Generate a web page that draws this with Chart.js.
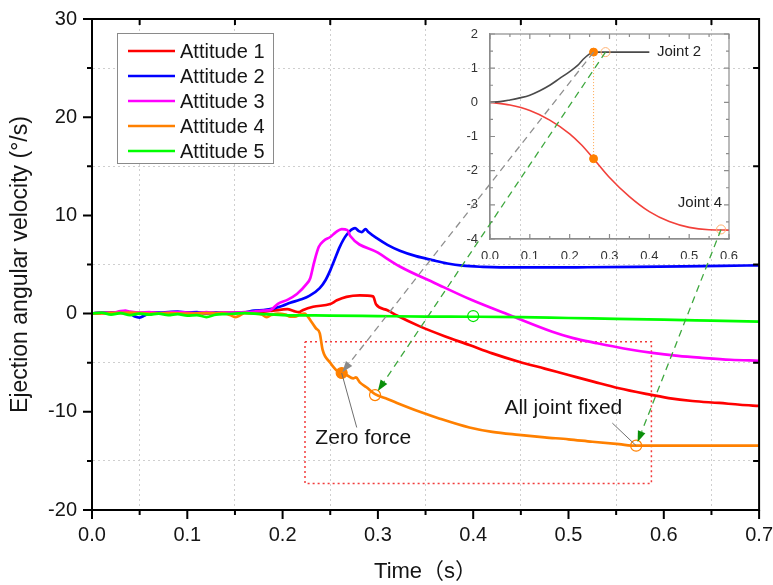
<!DOCTYPE html>
<html>
<head>
<meta charset="utf-8">
<script src="https://cdn.jsdelivr.net/npm/chart.js@4.4.1/dist/chart.umd.min.js"></script>
<style>
  html, body { margin: 0; padding: 0; background: #fff; }
  #wrap { position: relative; width: 773px; height: 585px; }
  #wrap canvas { position: absolute; left: 0; top: 0; }
</style>
</head>
<body>
<div id="wrap">
  <canvas id="main" width="773" height="585"></canvas>
  <canvas id="inset" width="773" height="585"></canvas>
</div>
<script>
const FONT = 'Arial, "Liberation Sans", "Noto Sans CJK SC", sans-serif';
const INK = '#151515';

// main plot: [time (s), ejection angular velocity (deg/s)]
const attitude1 = [[0,0],[0.02,0.1],[0.04,0.05],[0.06,0.1],[0.08,0.0],[0.1,0.1],[0.12,0.05],[0.14,0.1],[0.16,0.1],[0.18,0.2],[0.19,0.3],[0.205,0.45],[0.212,0.25],[0.217,0.15],[0.221,0.35],[0.232,0.7],[0.25,0.97],[0.257,1.35],[0.267,1.7],[0.281,1.85],[0.295,1.75],[0.298,0.95],[0.31,0.35],[0.32,-0.2],[0.344,-1.3],[0.37,-2.3],[0.396,-3.2],[0.42,-4.05],[0.448,-4.9],[0.475,-5.6],[0.5,-6.25],[0.527,-6.95],[0.553,-7.6],[0.58,-8.15],[0.605,-8.6],[0.63,-8.9],[0.658,-9.1],[0.68,-9.28],[0.7,-9.4]];
const attitude2 = [[0,0],[0.01,0.1],[0.02,0.05],[0.03,0.15],[0.04,0.0],[0.045,-0.3],[0.05,-0.4],[0.055,-0.2],[0.06,0.05],[0.07,0.1],[0.08,0.15],[0.09,0.2],[0.1,0.1],[0.11,0.15],[0.12,0.05],[0.13,0.1],[0.14,0.0],[0.15,0.05],[0.16,0.1],[0.17,0.3],[0.18,0.35],[0.19,0.5],[0.2,0.8],[0.208,1.1],[0.218,1.4],[0.228,1.8],[0.239,2.6],[0.245,3.4],[0.25,4.4],[0.255,5.6],[0.26,6.8],[0.267,8.0],[0.276,8.7],[0.28,8.4],[0.283,8.3],[0.287,8.6],[0.29,8.3],[0.3,7.6],[0.31,7.0],[0.323,6.4],[0.34,5.85],[0.357,5.45],[0.373,5.1],[0.389,4.88],[0.41,4.76],[0.428,4.71],[0.47,4.7],[0.52,4.72],[0.57,4.75],[0.62,4.8],[0.66,4.85],[0.7,4.92]];
const attitude3 = [[0,0],[0.01,0.1],[0.02,0.05],[0.03,0.25],[0.035,0.3],[0.04,0.2],[0.05,0.1],[0.06,0.15],[0.07,0.05],[0.08,0.1],[0.09,0.15],[0.1,0.1],[0.11,0.05],[0.12,0.15],[0.13,0.05],[0.14,0.1],[0.15,0.1],[0.16,0.15],[0.17,0.2],[0.18,0.3],[0.187,0.35],[0.195,1.0],[0.205,1.4],[0.215,2.0],[0.225,3.0],[0.229,3.6],[0.233,5.2],[0.238,6.8],[0.243,7.4],[0.25,7.8],[0.256,8.3],[0.262,8.6],[0.268,8.5],[0.271,7.9],[0.3,6.2],[0.323,4.8],[0.36,3.1],[0.398,1.4],[0.438,-0.15],[0.483,-1.85],[0.505,-2.5],[0.529,-3.0],[0.558,-3.55],[0.588,-4.0],[0.615,-4.3],[0.64,-4.5],[0.67,-4.7],[0.7,-4.8]];
const attitude4 = [[0,0],[0.02,0.05],[0.04,0.1],[0.06,0.0],[0.08,0.05],[0.1,0.0],[0.12,0.05],[0.14,0.0],[0.145,-0.15],[0.15,-0.35],[0.155,-0.2],[0.16,0.05],[0.17,0.0],[0.178,-0.1],[0.183,-0.35],[0.188,-0.15],[0.195,0.0],[0.203,-0.1],[0.208,-0.3],[0.213,-0.3],[0.218,-0.1],[0.223,0.0],[0.23,-0.8],[0.235,-1.5],[0.239,-2.0],[0.242,-3.7],[0.25,-5.0],[0.258,-5.9],[0.262,-6.05],[0.267,-6.25],[0.274,-6.6],[0.277,-6.5],[0.281,-7.0],[0.288,-7.5],[0.297,-8.2],[0.31,-8.7],[0.32,-9.1],[0.344,-10.0],[0.365,-10.7],[0.396,-11.6],[0.42,-12.05],[0.448,-12.35],[0.475,-12.6],[0.5,-12.8],[0.525,-13.05],[0.553,-13.3],[0.571,-13.45],[0.6,-13.45],[0.65,-13.45],[0.7,-13.45]];
const attitude5 = [[0,0],[0.01,0.1],[0.02,-0.1],[0.03,0.05],[0.04,-0.15],[0.05,0.0],[0.06,-0.1],[0.07,0.0],[0.08,-0.15],[0.09,-0.05],[0.1,-0.2],[0.11,-0.15],[0.12,-0.35],[0.13,-0.1],[0.14,-0.05],[0.15,0.0],[0.16,0.05],[0.17,0.0],[0.2,-0.15],[0.25,-0.2],[0.3,-0.25],[0.35,-0.3],[0.4,-0.32],[0.45,-0.36],[0.5,-0.45],[0.55,-0.53],[0.6,-0.62],[0.65,-0.72],[0.7,-0.82]];

const seriesNames = ['Attitude 1', 'Attitude 2', 'Attitude 3', 'Attitude 4', 'Attitude 5'];
const seriesData = [attitude1, attitude2, attitude3, attitude4, attitude5];
const seriesColors = ['#ff0000', '#0000ff', '#ff00ff', '#ff8000', '#00ff00'];

// marked events on the main plot
const zeroForce = [[0.262, -6.05]];
const jointFixed = [[0.297, -8.3], [0.571, -13.45]];
const greenMark = [[0.4, -0.25]];
const zoomBox = [[0.2235, -2.86], [0.587, -2.86], [0.587, -17.3], [0.2235, -17.3], [0.2235, -2.86]];

// inset: joint angle vs time
const joint2 = [[0,0],[0.025,0.02],[0.05,0.07],[0.075,0.13],[0.1,0.21],[0.125,0.34],[0.15,0.5],[0.175,0.7],[0.2,0.9],[0.22,1.08],[0.234,1.26],[0.25,1.42],[0.26,1.47],[0.3,1.47],[0.35,1.47],[0.4,1.47]];
const joint4 = [[0,0],[0.05,-0.08],[0.1,-0.24],[0.15,-0.52],[0.2,-0.92],[0.23,-1.25],[0.26,-1.65],[0.3,-2.2],[0.35,-2.76],[0.4,-3.2],[0.45,-3.49],[0.5,-3.66],[0.55,-3.73],[0.6,-3.74]];
const insetZero = [[0.26, 1.47], [0.26, -1.65]];
const insetFixed = [[0.29, 1.47], [0.58, -3.72]];

const notes = [
  { text: 'Zero force', at: [0.2846, -12.67], from: [0.2778, -11.6], to: zeroForce[0] },
  { text: 'All joint fixed', at: [0.4946, -9.61], from: [0.546, -11.15], to: jointFixed[1] },
];
const links = [
  { from: insetZero[0], to: zeroForce[0], line: '#8f8f8f', head: '#8a8a8a', gap: 1 },
  { from: insetFixed[0], to: jointFixed[0], line: '#3ea83e', head: '#0a8f0a', gap: 5 },
  { from: insetFixed[1], to: jointFixed[1], line: '#3ea83e', head: '#0a8f0a', gap: 4 },
];
const jointLabels = [
  { text: 'Joint 2', at: [0.419, 1.47], align: 'left' },
  { text: 'Joint 4', at: [0.527, -2.95], align: 'center' },
];

const pts = arr => arr.map(([x, y]) => ({ x, y }));
const isOdd = (v, step) => Math.round(v / step) % 2 !== 0;
const CLEAR = 'rgba(0,0,0,0)';

const mainFrame = {
  id: 'mainFrame',
  afterDraw(chart) {
    const { ctx, chartArea: a, scales: { x, y } } = chart;
    ctx.save();
    ctx.strokeStyle = '#000';
    ctx.lineWidth = 2;
    ctx.strokeRect(a.left, a.top, a.right - a.left, a.bottom - a.top);
    ctx.beginPath();
    for (let i = 0; i <= 14; i++) {
      const px = x.getPixelForValue(i * 0.05);
      if (i % 2 === 0) { ctx.moveTo(px, a.bottom); ctx.lineTo(px, a.bottom + 9); }
      else {
        ctx.moveTo(px, a.bottom); ctx.lineTo(px, a.bottom + 5);
        ctx.moveTo(px, a.top); ctx.lineTo(px, a.top + 6);
      }
    }
    for (let i = -4; i <= 6; i++) {
      const py = y.getPixelForValue(i * 5);
      if (i % 2 === 0) { ctx.moveTo(a.left - 9, py); ctx.lineTo(a.left, py); }
      else {
        ctx.moveTo(a.left - 5, py); ctx.lineTo(a.left, py);
        ctx.moveTo(a.right - 6, py); ctx.lineTo(a.right, py);
      }
    }
    ctx.stroke();

    // legend box
    const bx = a.left + 25, by = a.top + 14;
    ctx.fillStyle = '#fff';
    ctx.fillRect(bx, by, 156, 130);
    ctx.strokeStyle = '#8a8a8a';
    ctx.lineWidth = 1;
    ctx.strokeRect(bx + 0.5, by + 0.5, 156, 130);
    ctx.font = '20px ' + FONT;
    ctx.textBaseline = 'middle';
    ctx.fillStyle = INK;
    seriesNames.forEach((name, i) => {
      const ry = by + 18 + i * 25;
      ctx.strokeStyle = seriesColors[i];
      ctx.lineWidth = 2.5;
      ctx.beginPath();
      ctx.moveTo(bx + 11, ry); ctx.lineTo(bx + 58, ry);
      ctx.stroke();
      ctx.fillText(name, bx + 63, ry + 1);
    });

    // annotations
    ctx.font = '21px ' + FONT;
    ctx.textAlign = 'center';
    notes.forEach(n => {
      ctx.fillStyle = INK;
      ctx.fillText(n.text, x.getPixelForValue(n.at[0]), y.getPixelForValue(n.at[1]));
      ctx.strokeStyle = '#6f6f6f';
      ctx.lineWidth = 1;
      ctx.beginPath();
      ctx.moveTo(x.getPixelForValue(n.from[0]), y.getPixelForValue(n.from[1]));
      ctx.lineTo(x.getPixelForValue(n.to[0]), y.getPixelForValue(n.to[1]));
      ctx.stroke();
    });
    ctx.restore();
  }
};

const lineSet = (i) => ({
  label: seriesNames[i], data: pts(seriesData[i]), borderColor: seriesColors[i],
  borderWidth: 2.7, pointRadius: 0, fill: false, cubicInterpolationMode: 'monotone', order: 6 - i
});
const markSet = (data, fill, stroke, order) => ({
  data: pts(data), showLine: false, pointRadius: 5.5, pointBackgroundColor: fill,
  pointBorderColor: stroke, pointBorderWidth: 1.2, order
});

const mainChart = new Chart(document.getElementById('main'), {
  type: 'line',
  data: {
    datasets: [
      { data: pts(zoomBox), borderColor: '#f23c3c', borderWidth: 1.5, borderDash: [2, 3], pointRadius: 0, fill: false, order: 9 },
      lineSet(0), lineSet(1), lineSet(2), lineSet(3), lineSet(4),
      markSet(zeroForce, '#ff8000', '#ff8000', 0),
      markSet(jointFixed, CLEAR, '#ff8000', 0),
      markSet(greenMark, CLEAR, '#00e000', 0),
    ]
  },
  options: {
    responsive: false,
    animation: false,
    events: [],
    layout: { padding: { left: 0, right: 0, top: 19, bottom: 0 } },
    plugins: { legend: { display: false }, tooltip: { enabled: false } },
    scales: {
      x: {
        type: 'linear', min: 0, max: 0.7,
        afterFit: s => { s.height = 75; },
        ticks: {
          stepSize: 0.05, autoSkip: false, maxRotation: 0, padding: 0,
          color: INK, font: { family: FONT, size: 20 },
          callback: v => isOdd(v, 0.05) ? '' : (Math.round(v / 0.05) * 0.05).toFixed(1)
        },
        grid: { drawTicks: true, tickLength: 13, tickColor: CLEAR, lineWidth: 1,
          color: c => (c.tick && isOdd(c.tick.value, 0.05)) ? '#cfcfcf' : CLEAR },
        border: { color: '#000', width: 2, dash: [2, 3] },
        title: { display: true, text: 'Time（s）', color: INK, font: { family: FONT, size: 22 }, padding: { top: 0, bottom: 0 } }
      },
      y: {
        type: 'linear', min: -20, max: 30,
        afterFit: s => { s.width = 92; },
        ticks: {
          stepSize: 5, autoSkip: false, padding: 0,
          color: INK, font: { family: FONT, size: 20 },
          callback: v => isOdd(v, 5) ? '' : String(Math.round(v))
        },
        grid: { drawTicks: true, tickLength: 15, tickColor: CLEAR, lineWidth: 1,
          color: c => (c.tick && isOdd(c.tick.value, 5)) ? '#cfcfcf' : CLEAR },
        border: { color: '#000', width: 2, dash: [2, 3] },
        title: { display: true, text: 'Ejection angular velocity (°/s)', color: INK, font: { family: FONT, size: 23 }, padding: { top: 7, bottom: 0 } }
      }
    }
  },
  plugins: [mainFrame]
});

const insetDecor = {
  id: 'insetDecor',
  afterDraw(chart) {
    const { ctx, chartArea: a, scales: { x, y } } = chart;
    ctx.save();
    ctx.strokeStyle = '#8c8c8c';
    ctx.lineWidth = 1.2;
    ctx.strokeRect(a.left, a.top, a.right - a.left, a.bottom - a.top);
    ctx.beginPath();
    for (let i = 0; i <= 12; i++) {
      const px = x.getPixelForValue(i * 0.05);
      const len = i % 2 === 0 ? 5 : 3;
      ctx.moveTo(px, a.bottom); ctx.lineTo(px, a.bottom - len);
      ctx.moveTo(px, a.top); ctx.lineTo(px, a.top + len);
    }
    for (let i = -8; i <= 4; i++) {
      const py = y.getPixelForValue(i * 0.5);
      const len = i % 2 === 0 ? 5 : 3;
      ctx.moveTo(a.left, py); ctx.lineTo(a.left + len, py);
      ctx.moveTo(a.right, py); ctx.lineTo(a.right - len, py);
    }
    ctx.stroke();

    ctx.font = '15px ' + FONT;
    ctx.fillStyle = '#222';
    ctx.textBaseline = 'middle';
    jointLabels.forEach(l => {
      ctx.textAlign = l.align;
      ctx.fillText(l.text, x.getPixelForValue(l.at[0]), y.getPixelForValue(l.at[1]));
    });

    // dashed arrows from inset events to main-plot events
    const mx = mainChart.scales.x, my = mainChart.scales.y;
    links.forEach(k => {
      const x0 = x.getPixelForValue(k.from[0]), y0 = y.getPixelForValue(k.from[1]);
      const cx = mx.getPixelForValue(k.to[0]), cy = my.getPixelForValue(k.to[1]);
      const dx = cx - x0, dy = cy - y0, d = Math.hypot(dx, dy);
      const ux = dx / d, uy = dy / d;
      const tx = cx - ux * k.gap, ty = cy - uy * k.gap;
      const hl = 11, hw = 4;
      ctx.strokeStyle = k.line;
      ctx.lineWidth = 1.3;
      ctx.setLineDash([7, 5]);
      ctx.beginPath();
      ctx.moveTo(x0, y0); ctx.lineTo(tx - ux * hl, ty - uy * hl);
      ctx.stroke();
      ctx.setLineDash([]);
      ctx.fillStyle = k.head;
      ctx.beginPath();
      ctx.moveTo(tx, ty);
      ctx.lineTo(tx - ux * hl - uy * hw, ty - uy * hl + ux * hw);
      ctx.lineTo(tx - ux * hl + uy * hw, ty - uy * hl - ux * hw);
      ctx.closePath();
      ctx.fill();
    });
    ctx.restore();
  }
};

new Chart(document.getElementById('inset'), {
  type: 'line',
  data: {
    datasets: [
      { data: pts(insetZero), borderColor: '#ffa64d', borderWidth: 1, borderDash: [1, 2], pointRadius: 0, order: 3 },
      { data: pts(joint2), borderColor: '#4a4a4a', borderWidth: 1.6, pointRadius: 0, cubicInterpolationMode: 'monotone', order: 2 },
      { data: pts(joint4), borderColor: '#f2403a', borderWidth: 1.6, pointRadius: 0, cubicInterpolationMode: 'monotone', order: 2 },
      { data: pts(insetZero), showLine: false, pointRadius: 4, pointBackgroundColor: '#ff8000', pointBorderColor: '#ff8000', order: 0 },
      { data: pts(insetFixed), showLine: false, pointRadius: 4.5, pointBackgroundColor: CLEAR, pointBorderColor: '#ffb070', pointBorderWidth: 1, order: 0 },
    ]
  },
  options: {
    responsive: false,
    animation: false,
    events: [],
    layout: { padding: { left: 460, right: 44, top: 34, bottom: 326 } },
    plugins: { legend: { display: false }, tooltip: { enabled: false } },
    scales: {
      x: {
        type: 'linear', min: 0, max: 0.6,
        afterFit: s => { s.height = 20; },
        ticks: { stepSize: 0.1, autoSkip: false, maxRotation: 0, padding: 2, color: '#333', font: { family: FONT, size: 13 },
          callback: v => v.toFixed(1) },
        grid: { display: false },
        border: { color: '#8c8c8c', width: 1.2 }
      },
      y: {
        type: 'linear', min: -4, max: 2,
        afterFit: s => { s.width = 30; },
        ticks: { stepSize: 1, autoSkip: false, padding: 4, color: '#333', font: { family: FONT, size: 13 },
          callback: v => String(Math.round(v)) },
        grid: { display: false },
        border: { color: '#8c8c8c', width: 1.2 }
      }
    }
  },
  plugins: [insetDecor]
});
</script>
</body>
</html>
